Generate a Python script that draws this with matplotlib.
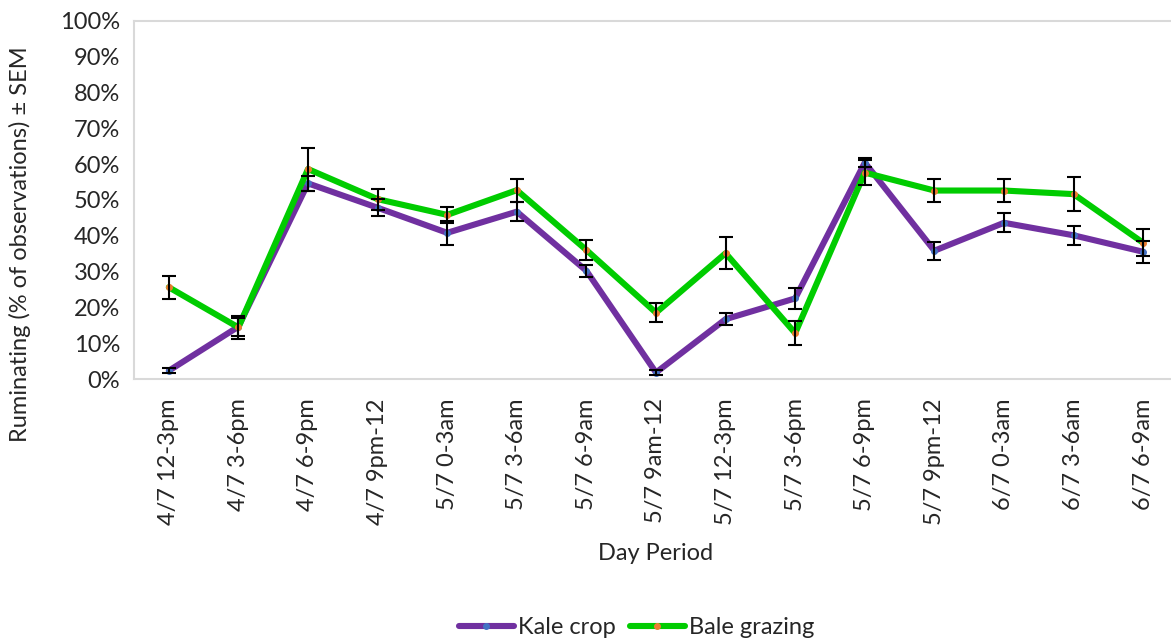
import matplotlib
matplotlib.use("Agg")
import matplotlib.pyplot as plt
from matplotlib.ticker import FuncFormatter

categories = ['4/7 12-3pm', '4/7 3-6pm', '4/7 6-9pm', '4/7 9pm-12', '5/7 0-3am',
              '5/7 3-6am', '5/7 6-9am', '5/7 9am-12', '5/7 12-3pm', '5/7 3-6pm',
              '5/7 6-9pm', '5/7 9pm-12', '6/7 0-3am', '6/7 3-6am', '6/7 6-9am']
kale = [2.3, 14.6, 54.6, 47.8, 40.8, 46.7, 30.2, 1.8, 16.7, 22.5, 60.4, 35.8, 43.6, 40.1, 35.5]
kale_sem = [0.7, 2.5, 2.0, 2.3, 3.3, 2.7, 1.6, 0.6, 1.6, 2.9, 1.3, 2.5, 2.7, 2.7, 3.0]
bale = [25.6, 14.4, 58.6, 50.2, 45.8, 52.7, 36.0, 18.5, 35.1, 12.8, 57.6, 52.6, 52.6, 51.6, 38.0]
bale_sem = [3.2, 3.2, 6.0, 2.9, 2.2, 3.2, 2.9, 2.6, 4.4, 3.3, 3.4, 3.3, 3.3, 4.7, 3.8]

plt.rcParams['font.family'] = ['Lato', 'DejaVu Sans']
text_color = '#262626'

fig = plt.figure(figsize=(11.71, 6.44), dpi=100)
W, H = 1171, 644
left, right, top, bottom = 134, 1178, 20.7, 379
ax = fig.add_axes([left / W, 1 - bottom / H, (right - left) / W, (bottom - top) / H])

x = list(range(len(categories)))
ax.plot(x, kale, color='#7030A0', lw=4.4, marker='o', ms=4,
        mfc='#4472C4', mec='#4472C4', label='Kale crop', zorder=3, solid_capstyle='round')
ax.plot(x, bale, color='#00CC00', lw=4.4, marker='o', ms=4,
        mfc='#ED7D31', mec='#ED7D31', label='Bale grazing', zorder=4, solid_capstyle='round')
ax.errorbar(x, kale, yerr=kale_sem, fmt='none', ecolor='black', elinewidth=1.5,
            capsize=5, capthick=1.5, zorder=5)
ax.errorbar(x, bale, yerr=bale_sem, fmt='none', ecolor='black', elinewidth=1.5,
            capsize=5, capthick=1.5, zorder=5)

ax.set_xlim(-0.5, len(categories) - 0.5)
ax.set_ylim(0, 100)
ax.set_yticks(range(0, 101, 10))
ax.yaxis.set_major_formatter(FuncFormatter(lambda v, p: f'{int(v)}%'))
ax.set_xticks(x)
ax.set_xticklabels(categories, rotation=90)
ax.tick_params(axis='both', length=0, labelsize=17, labelcolor=text_color)
ax.tick_params(axis='x', pad=14)
ax.tick_params(axis='y', pad=10)
for s in ax.spines.values():
    s.set_color('#D9D9D9')
    s.set_linewidth(1.5)

fig.text(20 / W, 1 - 244 / H, 'Ruminating (% of observations) ± SEM', rotation=90,
         ha='center', va='center', fontsize=17, color=text_color)
fig.text(656 / W, 1 - 553 / H, 'Day Period', ha='center', va='center',
         fontsize=17, color=text_color)

leg = fig.legend(loc='center', bbox_to_anchor=(637 / W, 1 - 628 / H), ncol=2, frameon=False,
                 fontsize=17, handlelength=2.3, handletextpad=0.2, columnspacing=0.6,
                 labelcolor=text_color)

fig.savefig('out.png', dpi=100)
